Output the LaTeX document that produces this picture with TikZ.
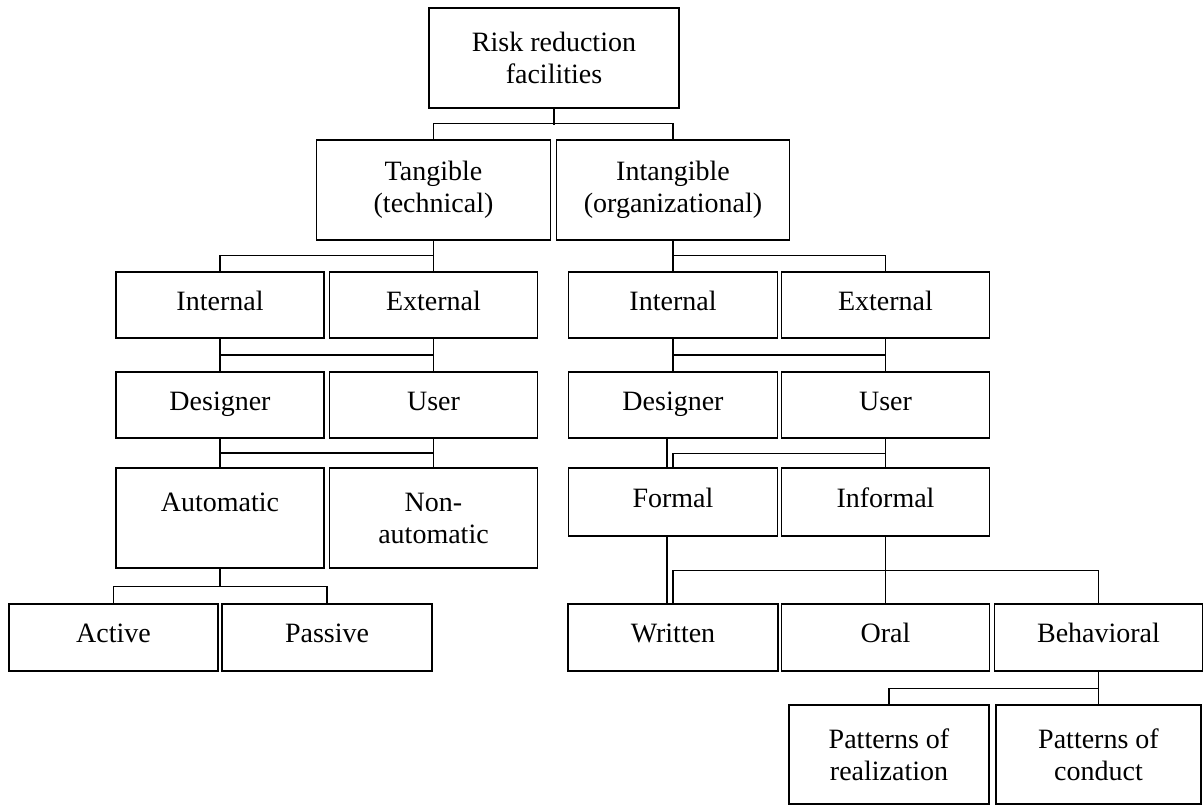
\documentclass[tikz,border=0pt]{standalone}
\usepackage{fontspec}
\setmainfont{Liberation Serif}
\usetikzlibrary{calc}

\begin{document}
\begin{tikzpicture}[x=1pt, y=-1pt, line width=1.3pt,
	frame/.style={draw, rectangle, inner sep=0pt, align=center, minimum width=208pt, font=\fontsize{28}{32}\selectfont},
	box/.style={frame, minimum height=66pt, text height=18pt, text depth=8pt},
	tall/.style={frame, minimum height=100pt}]
	\useasboundingbox (0,0) rectangle (1203,805);

	\node[tall, minimum width=250pt] (risk) at (554,58) {Risk reduction\\facilities};
	\node[tall, minimum width=234pt] (tang) at (433.5,190) {Tangible\\(technical)};
	\node[tall, minimum width=233pt] (intang) at (673,190) {Intangible\\(organizational)};

	% tangible branch
	\node[box] (intL) at (220,305) {Internal};
	\node[box] (extL) at (433.5,305) {External};
	\node[box] (desL) at (220,405) {Designer};
	\node[box] (userL) at (433.5,405) {User};
	\node[tall] (auto) at (220,518) {Automatic\\\mbox{}};
	\node[tall] (nonauto) at (433.5,518) {Non-\\automatic};
	\node[box, minimum width=209pt, minimum height=67pt] (active) at (113.5,637.5) {Active};
	\node[box, minimum width=210pt, minimum height=67pt] (passive) at (327,637.5) {Passive};

	% intangible branch
	\node[box, minimum width=209pt] (intR) at (673,305) {Internal};
	\node[box] (extR) at (885.5,305) {External};
	\node[box, minimum width=209pt] (desR) at (673,405) {Designer};
	\node[box] (userR) at (885.5,405) {User};
	\node[box, minimum width=209pt, minimum height=68pt] (formal) at (673,502) {Formal};
	\node[box, minimum height=68pt] (informal) at (885.5,502) {Informal};
	\node[box, minimum width=210pt, minimum height=67pt] (written) at (673,637.5) {Written};
	\node[box, minimum height=67pt] (oral) at (885.5,637.5) {Oral};
	\node[box, minimum height=67pt] (behav) at (1098.5,637.5) {Behavioral};
	\node[tall, minimum width=200pt, minimum height=99pt] (patreal) at (889,754.5) {Patterns of\\realization};
	\node[tall, minimum width=205pt, minimum height=99pt] (patcond) at (1098.5,754.5) {Patterns of\\conduct};

	\draw (risk.south) -- ++(0,16);
	\draw (tang.north) -- ++(0,-16) -| (intang.north);

	\draw (tang.south) -- (tang.south |- extL.north);
	\draw (tang.south) ++(0,15) -| (intL.north);
	\draw (intL.south) -- (desL.north);
	\draw (extL.south) -- (userL.north);
	\draw ($(intL.south)!.5!(desL.north)$) -- ($(extL.south)!.5!(userL.north)$);
	\draw (desL.south) -- (auto.north);
	\draw (userL.south) -- (nonauto.north);
	\draw ($(desL.south)!.5!(auto.north)$) -- ($(userL.south)!.5!(nonauto.north)$);
	\draw (auto.south) -- ++(0,18) -| (active.north);
	\draw (auto.south) ++(0,18) -| (passive.north);

	\draw (intang.south) -- (intR.north);
	\draw (intang.south) ++(0,15) -| (extR.north);
	\draw (intR.south) -- (desR.north);
	\draw (extR.south) -- (userR.north);
	\draw ($(intR.south)!.5!(desR.north)$) -- ($(extR.south)!.5!(userR.north)$);
	\draw ([xshift=-6pt]formal.north) -- ([xshift=-6pt]formal.north |- desR.south);
	\draw ([xshift=-6pt]written.north) -- ([xshift=-6pt]written.north |- formal.south);
	\draw (userR.south) -- (informal.north);
	\draw (userR.south) ++(0,15) -| (formal.north);
	\draw (informal.south) -- (oral.north);
	\draw (informal.south) ++(0,34) -| (written.north);
	\draw (informal.south) ++(0,34) -| (behav.north);
	\draw (behav.south) -- (patcond.north);
	\draw (behav.south) ++(0,17) -| (patreal.north);
\end{tikzpicture}
\end{document}
